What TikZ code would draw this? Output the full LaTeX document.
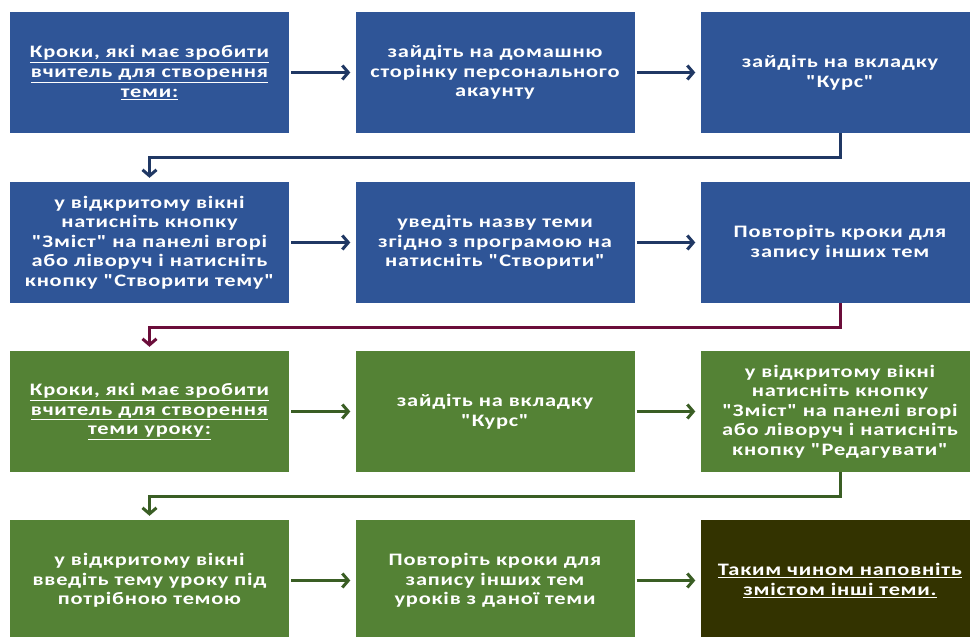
\documentclass[tikz,border=0pt]{standalone}
\usepackage{fontspec}
\setmainfont{Carlito}[Ligatures=TeXOff,FakeStretch=1.28,LetterSpace=4.5]
\usetikzlibrary{arrows.meta}
\definecolor{boxblue}{HTML}{2F5597}
\definecolor{boxgreen}{HTML}{548235}
\definecolor{boxdark}{HTML}{333300}
\definecolor{arrblue}{HTML}{203864}
\definecolor{arrmaroon}{HTML}{6B0D3A}
\definecolor{arrgreen}{HTML}{3A5E24}
\begin{document}
\begin{tikzpicture}[x=1pt,y=-1pt,
  stepbox/.style={rectangle, minimum width=279pt, minimum height=121pt, inner sep=0pt,
    text=white, align=center, font=\fontsize{17.5}{19.6}\selectfont\bfseries, draw=none},
  bluebox/.style={stepbox, fill=boxblue},
  greenbox/.style={stepbox, fill=boxgreen},
  darkbox/.style={stepbox, fill=boxdark},
  conn/.style={line width=3pt, -{Straight Barb[length=6pt,width=14pt,line width=3pt]}, shorten <=2pt, shorten >=5pt},
  elbow/.style={line width=3pt, -{Straight Barb[length=6pt,width=14pt,line width=3pt]}, shorten >=4pt}
]
\useasboundingbox (0,0) rectangle (970,637);
\clip (0,0) rectangle (970,637);
% row 1
\node[bluebox] (a1) at (149.5,72.5) {\underline{Кроки, які має зробити}\\\underline{вчитель для створення}\\\underline{теми:}};
\node[bluebox] (a2) at (495,72.5) {зайдіть на домашню\\сторінку персонального\\акаунту};
\node[bluebox] (a3) at (840,72.5) {зайдіть на вкладку\\"Курс"};
% row 2
\node[bluebox] (b1) at (149.5,242.5) {у відкритому вікні\\натисніть кнопку\\"Зміст" на панелі вгорі\\або ліворуч і натисніть\\кнопку "Створити тему"};
\node[bluebox] (b2) at (495,242.5) {уведіть назву теми\\згідно з програмою на\\натисніть "Створити"};
\node[bluebox] (b3) at (840,242.5) {Повторіть кроки для\\запису інших тем};
% row 3
\node[greenbox] (c1) at (149.5,411.5) {\underline{Кроки, які має зробити}\\\underline{вчитель для створення}\\\underline{теми уроку:}};
\node[greenbox] (c2) at (495,411.5) {зайдіть на вкладку\\"Курс"};
\node[greenbox] (c3) at (840,411.5) {у відкритому вікні\\натисніть кнопку\\"Зміст" на панелі вгорі\\або ліворуч і натисніть\\кнопку "Редагувати"};
% row 4
\node[greenbox] (d1) at (149.5,580.5) {у відкритому вікні\\введіть тему уроку під\\потрібною темою};
\node[greenbox] (d2) at (495,580.5) {Повторіть кроки для\\запису інших тем\\уроків з даної теми};
\node[darkbox] (d3) at (840,580.5) {\underline{Таким чином наповніть}\\\underline{змістом інші теми.}};
% horizontal arrows
\draw[conn, arrblue] (a1) -- (a2);
\draw[conn, arrblue] (a2) -- (a3);
\draw[conn, arrblue] (b1) -- (b2);
\draw[conn, arrblue] (b2) -- (b3);
\draw[conn, arrgreen] (c1) -- (c2);
\draw[conn, arrgreen] (c2) -- (c3);
\draw[conn, arrgreen] (d1) -- (d2);
\draw[conn, arrgreen] (d2) -- (d3);
% elbow connectors
\draw[elbow, arrblue] (a3.south) -- ++(0,24) -| (b1.north);
\draw[elbow, arrmaroon] (b3.south) -- ++(0,24) -| (c1.north);
\draw[elbow, arrgreen] (c3.south) -- ++(0,24) -| (d1.north);
\end{tikzpicture}
\end{document}
